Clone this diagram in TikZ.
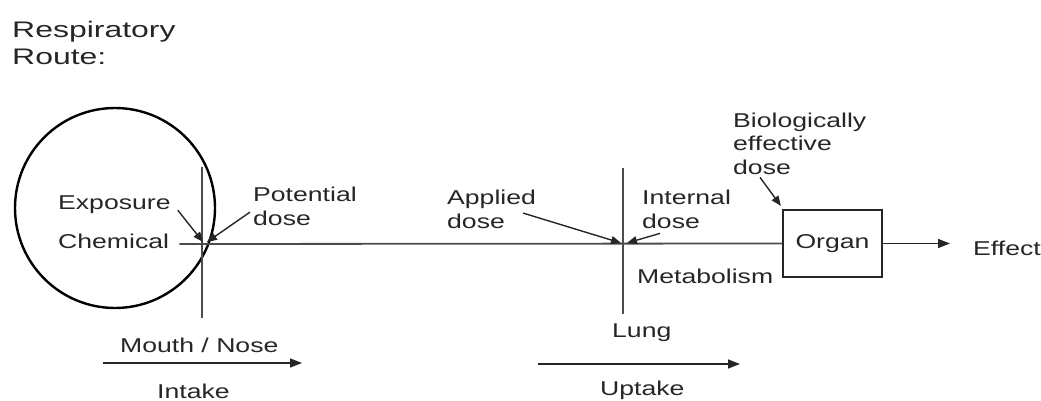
\documentclass[tikz,border=0pt]{standalone}
\usepackage{fontspec}
\setmainfont{Liberation Sans}[FakeStretch=1.33]
\newfontfamily\titlefont{Liberation Sans}[FakeStretch=1.42]
\usetikzlibrary{arrows.meta}

\begin{document}
\begin{tikzpicture}[
    x=1pt, y=-1pt,
    font=\fontsize{20}{23.5}\selectfont,
    label/.style={inner sep=0pt, anchor=base west, align=left, text=black!85},
    organbox/.style={draw=black!85, line width=2.2pt, minimum width=99pt,
        minimum height=67pt, inner sep=0pt, text=black!85},
    mainline/.style={draw=black!70, line width=1.8pt},
    flow/.style={-{Triangle[length=10pt,width=8pt]}, line width=1.4pt, draw=black!85},
    bigflow/.style={-{Triangle[length=12pt,width=9pt]}, line width=1.4pt, draw=black!85}
]
\useasboundingbox (0,0) rectangle (1041,401);
% multi-line labels sit on the baseline of their last line
\node[label, font=\titlefont\fontsize{22.5}{27}\selectfont] (title) at (12,65)
    {Respiratory\\Route:};
\node[draw=black, line width=2.4pt, circle, minimum size=200pt, inner sep=0pt]
    (chemcircle) at (115,208) {};
\node[label] (exposure) at (58,209) {Exposure};
\node[label] (chemical) at (58,248) {Chemical};
\node[label] (potential) at (253,225) {Potential\\dose};
\node[label] (applied) at (447,228) {Applied\\dose};
\node[label] (internal) at (642,228) {Internal\\dose};
\node[label] (bioeff) at (733,174) {Biologically\\effective\\dose};
\node[organbox] (organ) at (832.5,243.5) {Organ};
\node[label] (effect) at (973,255) {Effect};
\node[label] (metab) at (637,283) {Metabolism};
\node[label] (lung) at (612,337) {Lung};
\node[label] (mouthnose) at (120,352) {Mouth / Nose};
\node[label] (intake) at (157,398) {Intake};
\node[label] (uptake) at (600,395) {Uptake};
\coordinate (mouth) at (202,244);
\coordinate (lungx) at (623,244);
\coordinate (intakeL) at (103,363);
\coordinate (intakeR) at (302,363);
\coordinate (uptakeL) at (538,364);
\coordinate (uptakeR) at (740,364);
% barriers and main path
\draw[mainline] ([yshift=77pt]mouth) -- ([yshift=-74pt]mouth);
\draw[mainline] ([yshift=76pt]lungx) -- ([yshift=-70pt]lungx);
\draw[mainline] ([xshift=10pt]chemical.east |- mouth) -- (organ.west);
\draw[bigflow] (organ.east) -- ([xshift=-23pt]effect.west |- organ.east);
% dose pointers
\draw[flow] ([xshift=7pt,yshift=-6pt]exposure.east) -- ([xshift=1pt,yshift=2pt]mouth);
\draw[flow] ([xshift=-3pt,yshift=-6pt]potential.west) -- ([xshift=5pt,yshift=2pt]mouth);
\draw[flow] ([xshift=-13pt,yshift=-4pt]applied.east) -- ([xshift=-2pt,yshift=1pt]lungx);
\draw[flow] ([xshift=18pt,yshift=-5pt]internal.south west) -- ([xshift=4pt,yshift=1pt]lungx);
\draw[flow] ([xshift=27pt,yshift=-3pt]bioeff.south west) -- ([xshift=-1pt,yshift=3pt]organ.north west);
% intake and uptake
\draw[bigflow] (intakeL) -- (intakeR);
\draw[bigflow] (uptakeL) -- (uptakeR);
\end{tikzpicture}
\end{document}
